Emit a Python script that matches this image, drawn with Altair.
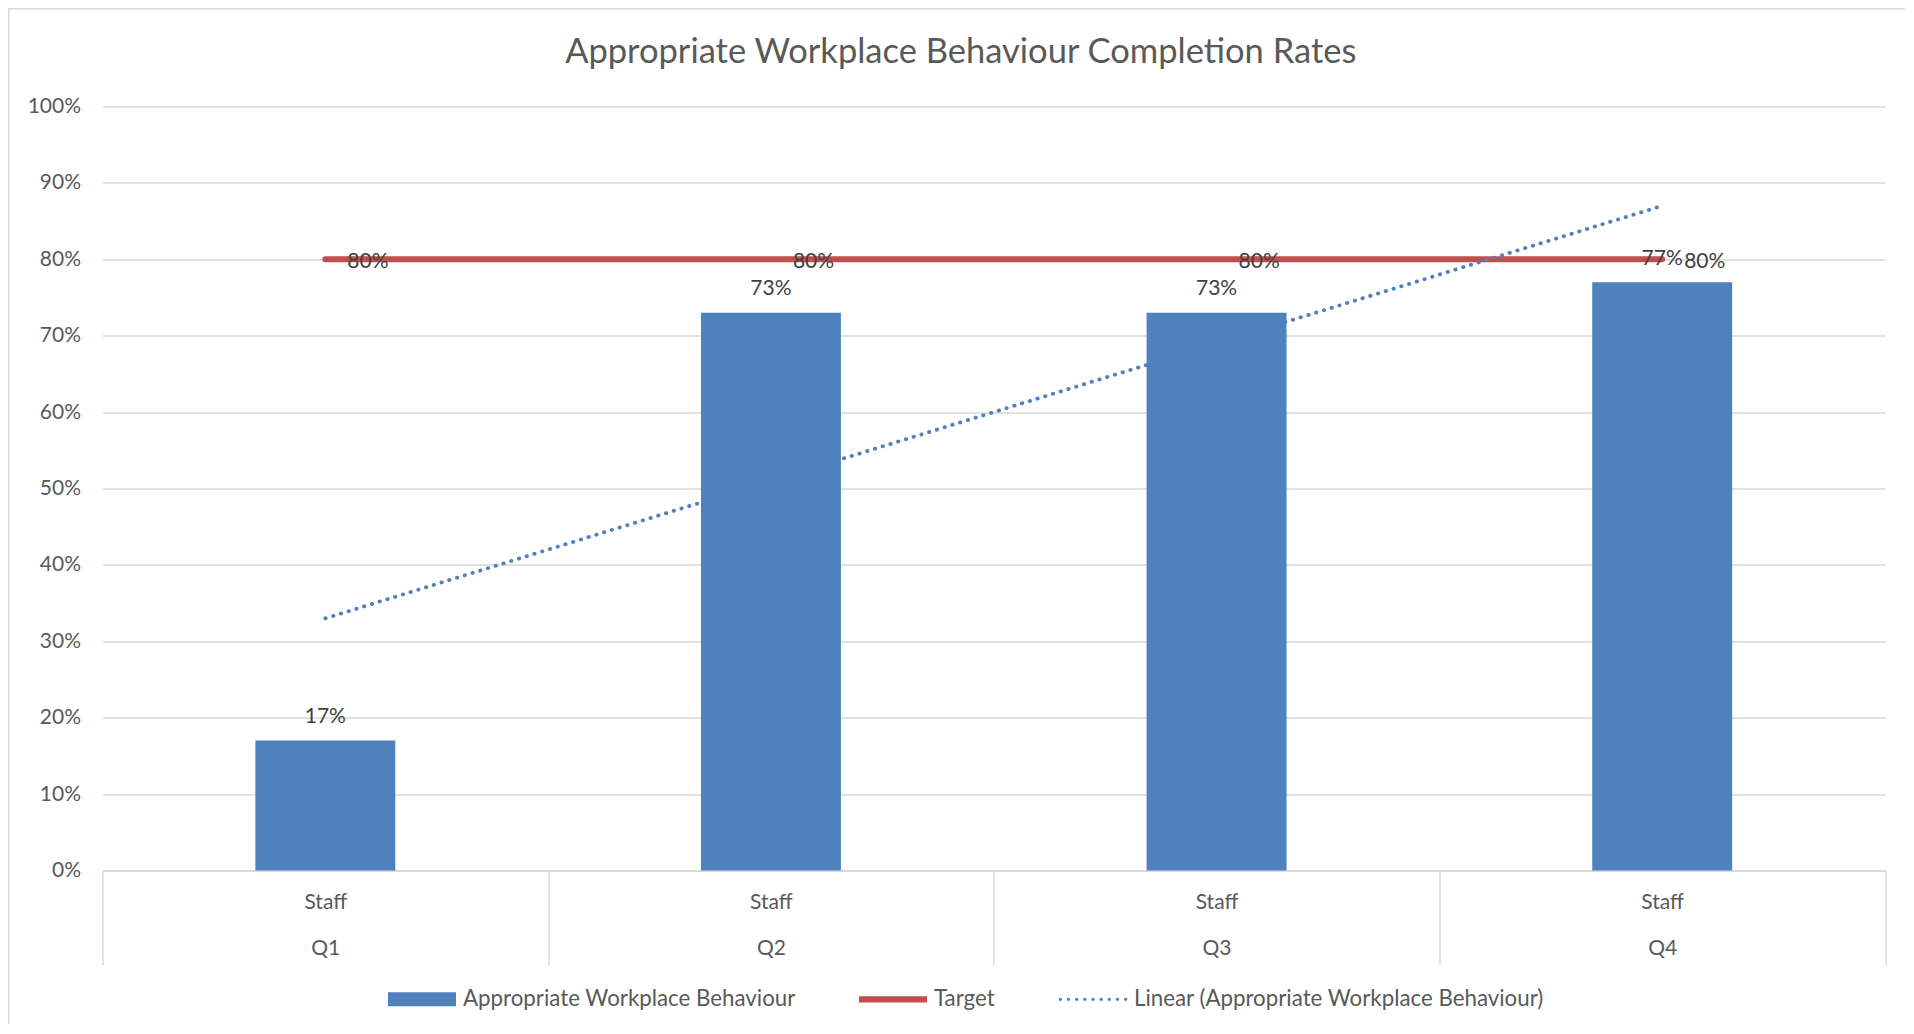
import altair as alt
import pandas as pd

# ---------------- data ----------------
quarters = ["Q1", "Q2", "Q3", "Q4"]
quarter_index = [1, 2, 3, 4]
group_label = "Staff"
completion = [0.17, 0.73, 0.73, 0.77]
target = [0.80, 0.80, 0.80, 0.80]
series_names = [
    "Appropriate Workplace Behaviour",
    "Target",
    "Linear (Appropriate Workplace Behaviour)",
]
y_ticks = [0.0, 0.1, 0.2, 0.3, 0.4, 0.5, 0.6, 0.7, 0.8, 0.9, 1.0]
title_text = "Appropriate Workplace Behaviour Completion Rates"

df = pd.DataFrame({
    "quarter": quarters,
    "idx": quarter_index,
    "completion": completion,
    "target": target,
})
legend_df = pd.DataFrame({"series": series_names})

# ---------------- style ----------------
BLUE = "#4F81BD"
RED = "#C0504D"
GRID = "#D9D9D9"
TEXT = "#595959"
LABEL = "#404040"
FONT = "Lato"

W = 1782.5
H = 764
PAD = {"left": 94.5, "top": 98.5, "right": 20, "bottom": 153.5}

bar_scale = alt.Scale(domain=quarters, paddingInner=0.686, paddingOuter=0.343)
cat_scale = alt.Scale(domain=quarters, paddingInner=0, paddingOuter=0)
y_scale = alt.Scale(domain=[0, 1], nice=False)

x_axis = alt.Axis(
    labelExpr=f"datum.label ? ['{group_label}', datum.label] : ''",
    labelLineHeight=46,
    labelBaseline="middle",
    labelPadding=-62.5,
    labelAngle=0,
    labelFont=FONT,
    labelFontSize=21,
    labelColor=TEXT,
    tickBand="extent",
    tickSize=94,
    tickColor=GRID,
    tickWidth=1.5,
    domainColor=GRID,
    domainWidth=2,
    grid=False,
)
y_axis = alt.Axis(
    values=y_ticks,
    format=".0%",
    grid=True,
    gridColor=GRID,
    gridWidth=1.5,
    domain=False,
    ticks=False,
    labelPadding=22,
    labelFont=FONT,
    labelFontSize=21,
    labelColor=TEXT,
)

x_bar = alt.X("quarter:N", scale=bar_scale, sort=quarters, title=None, axis=None)

base = alt.Chart(df)

# target line carries the category axis (band scale without padding -> separators at band edges)
target_line = base.mark_line(color=RED, strokeWidth=6, strokeCap="round").encode(
    x=alt.X("quarter:N", scale=cat_scale, sort=quarters, title=None, axis=x_axis),
    y=alt.Y("target:Q", scale=y_scale, title=None, axis=y_axis),
)

trend = (
    base.transform_regression("idx", "completion", method="linear")
    .mark_line(color=BLUE, strokeWidth=3.8, strokeDash=[0.4, 7.7], strokeCap="round")
    .encode(
        x=alt.X("idx:Q", scale=alt.Scale(domain=[0.5, 4.5], nice=False, zero=False), axis=None),
        y=alt.Y("completion:Q", scale=y_scale, title=None, axis=y_axis),
    )
)

bars = base.mark_bar(color=BLUE).encode(
    x=x_bar,
    y=alt.Y("completion:Q", scale=y_scale, title=None, axis=y_axis),
)

bar_labels = base.mark_text(
    align="center", baseline="middle", dy=-23.5, font=FONT, fontSize=21, color=LABEL
).encode(
    x=x_bar,
    y=alt.Y("completion:Q", scale=y_scale, title=None, axis=y_axis),
    text=alt.Text("completion:Q", format=".0%"),
)

target_labels = base.mark_text(
    align="left", baseline="middle", dx=22, dy=3, font=FONT, fontSize=21, color=LABEL
).encode(
    x=x_bar,
    y=alt.Y("target:Q", scale=y_scale, title=None, axis=y_axis),
    text=alt.Text("target:Q", format=".0%"),
)

# legend symbols (custom paths in the [-1, 1] unit box)
def dots_path(n=9, r=0.05, x0=-0.96, x1=0.96):
    parts = []
    step = (x1 - x0) / (n - 1)
    for i in range(n):
        cx = x0 + i * step
        parts.append(f"M{cx - r:.4f},0a{r},{r} 0 1,0 {2 * r},0a{r},{r} 0 1,0 {-2 * r},0Z")
    return "".join(parts)

shape_paths = [
    "M-1,-0.206H1V0.206H-1Z",
    "M-1,-0.09H1V0.09H-1Z",
    dots_path(),
]

legend = alt.Legend(
    orient="none",
    legendX=285.5,
    legendY=858.5,
    direction="horizontal",
    title=None,
    symbolSize=4624,
    symbolStrokeWidth=0,
    symbolOpacity=1,
    labelFont=FONT,
    labelFontSize=22.3,
    labelColor=TEXT,
    labelOffset=7,
    labelLimit=0,
    columnPadding=63,
    padding=0,
)

legend_layer = (
    alt.Chart(legend_df)
    .transform_filter("false")
    .mark_point(filled=True, opacity=1)
    .encode(
        color=alt.Color("series:N", scale=alt.Scale(domain=series_names, range=[BLUE, RED, BLUE]), legend=legend),
        shape=alt.Shape("series:N", scale=alt.Scale(domain=series_names, range=shape_paths), legend=legend),
    )
)

border_df = pd.DataFrame({"b": [0]})
left_border = alt.Chart(border_df).mark_rule(color=GRID, strokeWidth=1.5).encode(
    x=alt.value(-PAD["left"] + 0.75), y=alt.value(-PAD["top"]), y2=alt.value(H + PAD["bottom"])
)
top_border = alt.Chart(border_df).mark_rule(color=GRID, strokeWidth=1.5).encode(
    x=alt.value(-PAD["left"]), x2=alt.value(W + PAD["right"]), y=alt.value(-PAD["top"] + 0.75)
)

inner = alt.layer(bars, bar_labels, target_labels, legend_layer)

chart = (
    alt.layer(left_border, top_border, target_line, trend, inner)
    .resolve_scale(x="independent")
    .properties(
        width=W,
        height=H,
        padding=PAD,
        autosize=alt.AutoSizeParams(type="none"),
        background="white",
        title=alt.TitleParams(
            text=title_text,
            font=FONT,
            fontSize=34.5,
            fontWeight="normal",
            color=TEXT,
            anchor="middle",
            frame="group",
            dx=-33,
            offset=-63,
        ),
    )
    .configure_view(stroke=None)
)

chart.save("out.html", embed_options={"renderer": "svg", "actions": False})
